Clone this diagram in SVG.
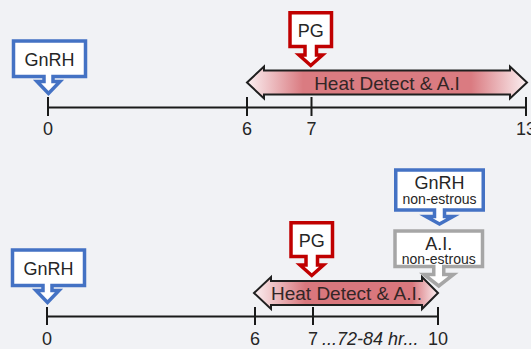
<svg xmlns="http://www.w3.org/2000/svg" width="531" height="349" viewBox="0 0 531 349">
  <defs>
    <linearGradient id="heatTop" x1="0" y1="0" x2="1" y2="0">
      <stop offset="0" stop-color="#fbf0f2"/>
      <stop offset="0.2" stop-color="#da7b81"/>
      <stop offset="0.8" stop-color="#da7b81"/>
      <stop offset="1" stop-color="#fbf0f2"/>
    </linearGradient>
    <linearGradient id="heatBot" x1="0" y1="0" x2="1" y2="0">
      <stop offset="0" stop-color="#fbf0f2"/>
      <stop offset="0.28" stop-color="#d9777d"/>
      <stop offset="0.86" stop-color="#d9777d"/>
      <stop offset="1" stop-color="#fbf0f2"/>
    </linearGradient>
  </defs>
  <style>
    .axis { stroke: #1a1a1a; stroke-width: 2; fill: none; }
    .lbl { font-family: "Liberation Sans", Arial, sans-serif; font-size: 18px; fill: #262626; text-anchor: middle; }
    .it { font-style: italic; text-anchor: start; }
    .heat { stroke: #1f1f1f; stroke-width: 2; stroke-linejoin: miter; }
    .heatTxt { font-family: "Liberation Sans", Arial, sans-serif; font-size: 19px; fill: #332626; text-anchor: middle; }
    .call { fill: #ffffff; stroke-width: 3.5; stroke-linejoin: miter; stroke-miterlimit: 10; }
    .blue { stroke: #4472c4; }
    .red { stroke: #c00000; }
    .gray { stroke: #a6a6a6; }
    .ctxt { font-family: "Liberation Sans", Arial, sans-serif; font-size: 18px; fill: #262626; text-anchor: middle; }
    .small { font-size: 14px; }
  </style>
  <rect x="0" y="0" width="531" height="349" fill="#f1f2f5"/>

  <g id="connectors">
    <path class="axis" d="M48,107.5 H526 M48,97 V116 M247,97 V116 M311.5,97 V116 M526,97 V116"/>
    <path class="axis" d="M47,316.5 H438 M47,307 V325 M255,307 V325 M313,307 V325 M438,307 V325"/>
  </g>

  <g id="axis-labels">
    <text class="lbl" x="48" y="135">0</text>
    <text class="lbl" x="247" y="135">6</text>
    <text class="lbl" x="311.5" y="135">7</text>
    <text class="lbl" x="526" y="135">13</text>
    <text class="lbl" x="47" y="345">0</text>
    <text class="lbl" x="255" y="345">6</text>
    <text class="lbl" x="313" y="345">7</text>
    <text class="lbl it" x="322" y="345">...72-84 hr...</text>
    <text class="lbl" x="438" y="345">10</text>
  </g>

  <g id="heat-top">
    <path class="heat" fill="url(#heatTop)" d="M247,82.5 L264,66.5 V70.5 H510 V66.5 L527,82.5 L510,98.5 V94.5 H264 V98.5 Z"/>
    <text class="heatTxt" x="387" y="89.5">Heat Detect &amp; A.I</text>
  </g>

  <g id="heat-bottom">
    <path class="heat" fill="url(#heatBot)" d="M254,293 L271,277 V281 H422 V277 L438,293 L422,309 V305 H271 V309 Z"/>
    <text class="heatTxt" x="346.5" y="300">Heat Detect &amp; A.I.</text>
  </g>

  <g id="gnrh-top">
    <path class="call blue" d="M13.5,41 H85.5 V76.5 H53 V81.5 H60 L48.5,93.5 L37,81.5 H44 V76.5 H13.5 Z"/>
    <text class="ctxt" x="49.5" y="66">GnRH</text>
  </g>

  <g id="pg-top">
    <path class="call red" d="M290,12.75 H331.5 V46.5 H316.5 V55 H322.5 L310.75,65.5 L299,55 H305 V46.5 H290 Z"/>
    <text class="ctxt" x="310.75" y="37">PG</text>
  </g>

  <g id="gnrh-bottom" transform="translate(-1,209)">
    <path class="call blue" d="M13.5,41 H85.5 V76.5 H53 V81.5 H60 L48.5,93.5 L37,81.5 H44 V76.5 H13.5 Z"/>
    <text class="ctxt" x="49.5" y="66">GnRH</text>
  </g>

  <g id="pg-bottom" transform="translate(1,210)">
    <path class="call red" d="M290,12.75 H331.5 V46.5 H316.5 V55 H322.5 L310.75,65.5 L299,55 H305 V46.5 H290 Z"/>
    <text class="ctxt" x="310.75" y="37">PG</text>
  </g>

  <g id="gnrh-nonestrous">
    <path class="call blue" d="M395.75,170 H483.25 V210 H444.5 V216.5 H453 L439.5,224 L426,216.5 H434.5 V210 H395.75 Z"/>
    <text class="ctxt" x="439.5" y="188.5">GnRH</text>
    <text class="ctxt small" x="439.5" y="204">non-estrous</text>
  </g>

  <g id="ai-nonestrous">
    <path class="call gray" d="M395,231 H482.5 V266.5 H443.75 V274.5 H453.5 L438.75,286 L424,274.5 H433.75 V266.5 H395 Z"/>
    <text class="ctxt" x="438.75" y="249.5" font-size="17">A.I.</text>
    <text class="ctxt small" x="438.75" y="264">non-estrous</text>
  </g>
</svg>
